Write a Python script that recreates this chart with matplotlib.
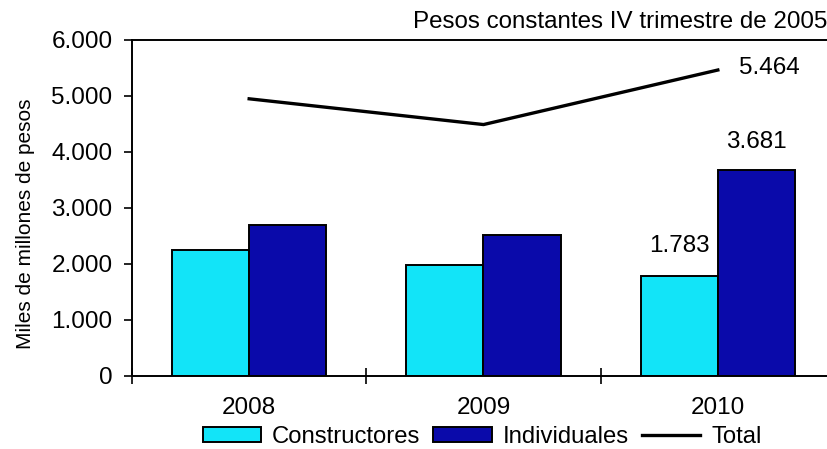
import numpy as np
import matplotlib
matplotlib.use("Agg")
import matplotlib.pyplot as plt
from matplotlib.ticker import FuncFormatter

# Valores en miles de millones de pesos (constantes IV trimestre 2005)
years = ["2008", "2009", "2010"]
constructores = [2250, 1980, 1783]
individuales = [2700, 2510, 3681]
total = [4950, 4490, 5464]

plt.rcParams['font.family'] = ['Liberation Sans', 'DejaVu Sans']

def miles(v):
    return f"{int(v):,}".replace(",", ".")

fig = plt.figure(figsize=(8.28, 4.49), dpi=100)
# el eje se sale un poco por la derecha, como en el grafico original
ax = fig.add_axes([132 / 828, 73 / 449, 703 / 828, 336 / 449])

x = np.arange(len(years))
w = 0.33
b1 = ax.bar(x - w / 2, constructores, w, color='#12E4F8', edgecolor='black',
            linewidth=1.4, label='Constructores', zorder=2)
b2 = ax.bar(x + w / 2, individuales, w, color='#0A0AAA', edgecolor='black',
            linewidth=1.4, label='Individuales', zorder=2)
l1, = ax.plot(x, total, color='black', linewidth=2.4, label='Total', zorder=3)

# etiquetas de valor solo para 2010
ax.annotate(miles(constructores[2]), (x[2] - w / 2, constructores[2]),
            xytext=(0, 22), textcoords='offset points', ha='center', va='center', fontsize=17.5)
ax.annotate(miles(individuales[2]), (x[2] + w / 2, individuales[2]),
            xytext=(0, 20), textcoords='offset points', ha='center', va='center', fontsize=17.5)
ax.annotate(miles(total[2]), (x[2], total[2]),
            xytext=(37, 1.5), textcoords='offset points', ha='center', va='center', fontsize=17.5)

ax.set_xlim(-0.5, 2.5)
ax.set_ylim(0, 6000)
ax.set_yticks(np.arange(0, 6001, 1000))
ax.yaxis.set_major_formatter(FuncFormatter(lambda v, p: miles(v)))
ax.tick_params(axis='y', direction='out', length=6, width=1.2, labelsize=17.5, pad=8)

ax.set_xticks([-0.5, 0.5, 1.5, 2.5])
ax.set_xticklabels([])
ax.set_xticks(x, minor=True)
ax.set_xticklabels(years, minor=True)
ax.tick_params(axis='x', which='major', direction='inout', length=12, width=1.2)
ax.tick_params(axis='x', which='minor', length=0, labelsize=17.5, pad=15)

for s in ax.spines.values():
    s.set_linewidth(1.4)

fig.text(26 / 828, 1 - 224 / 449, "Miles de millones de pesos", rotation=90,
         ha='center', va='center', fontsize=15)

fig.text(0.999, 1 - 22 / 449, "Pesos constantes IV trimestre de 2005",
         ha='right', va='center', fontsize=17.4)

fig.legend([b1, b2, l1], ['Constructores', 'Individuales', 'Total'],
           loc='center', bbox_to_anchor=(482 / 828, 1 - 437 / 449), ncol=3,
           frameon=False, fontsize=17.2, handlelength=2.45, handleheight=0.55,
           handletextpad=0.45, columnspacing=0.55, borderpad=0)

fig.savefig("out.png", dpi=100)
